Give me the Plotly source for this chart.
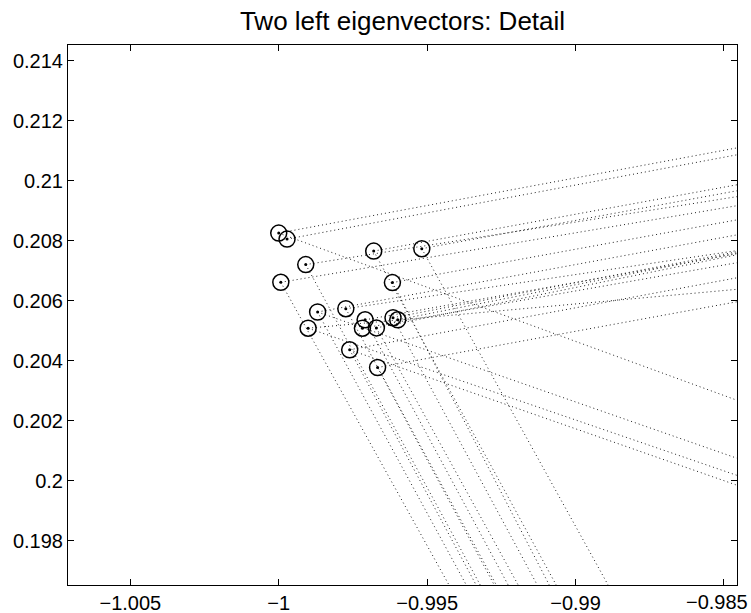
import plotly.graph_objects as go

# point positions (eigenvector components)
pt_x = [-1.0000, -0.99972, -0.99680, -0.99518, -0.99909, -0.99993, -0.99617, -0.99869, -0.99774,
        -0.99709, -0.99718, -0.99671, -0.99615, -0.99599, -0.99901, -0.99761, -0.99667]
pt_y = [0.20825, 0.20805, 0.20765, 0.20773, 0.20720, 0.20661, 0.20660, 0.20562, 0.20573,
        0.20536, 0.20508, 0.20509, 0.20543, 0.20536, 0.20508, 0.20436, 0.20377]

# far ends of the dotted connecting lines (None = no such line)
up_end_x = [-0.9844] * 17
up_end_y = [0.21112, 0.21089, 0.20989, 0.20969, 0.20949, 0.20919, 0.20872, 0.20822, 0.20769,
            0.20759, 0.20729, 0.20756, 0.20766, 0.20762, 0.20639, 0.20679, 0.20599]
mid_end_x = [-0.9844, None, None, None, None, None, None, -0.9844, None,
             None, None, None, None, None, -0.9844, -0.9844, None]
mid_end_y = [0.20262, None, None, None, None, None, None, 0.20069, None,
             None, None, None, None, None, 0.20012, 0.19979, None]
low_end_x = [None, None, -0.99053, -0.98878, -0.99309, -0.99414, -0.99077, -0.99356, -0.99255,
             -0.99215, None, -0.99181, -0.99117, None, None, -0.99323, -0.99262]
low_end_y = [None, None, 0.1963, 0.1963, 0.1963, 0.1963, 0.1963, 0.1963, 0.1963,
             0.1963, None, 0.1963, 0.1963, None, None, 0.1963, 0.1963]

x_ticks = [-1.005, -1.0, -0.995, -0.99, -0.985]
x_tick_text = ["\u22121.005", "\u22121", "\u22120.995", "\u22120.99", "\u22120.985"]
y_ticks = [0.198, 0.2, 0.202, 0.204, 0.206, 0.208, 0.21, 0.212, 0.214]
y_tick_text = ["0.198", "0.2", "0.202", "0.204", "0.206", "0.208", "0.21", "0.212", "0.214"]

seg_x, seg_y = [], []
for ex_list, ey_list in ((up_end_x, up_end_y), (mid_end_x, mid_end_y), (low_end_x, low_end_y)):
    for px, py, ex, ey in zip(pt_x, pt_y, ex_list, ey_list):
        if ex is None:
            continue
        seg_x += [px, ex, None]
        seg_y += [py, ey, None]

fig = go.Figure()
fig.add_trace(go.Scatter(x=seg_x, y=seg_y, mode="lines",
                         line=dict(color="#222222", width=1, dash="1px,3px"),
                         hoverinfo="skip", showlegend=False))
fig.add_trace(go.Scatter(x=pt_x, y=pt_y, mode="markers",
                         marker=dict(symbol="circle-open", size=16, color="black",
                                     line=dict(width=1.5, color="black")),
                         showlegend=False))
fig.add_trace(go.Scatter(x=pt_x, y=pt_y, mode="markers",
                         marker=dict(symbol="circle", size=3, color="black"),
                         showlegend=False))

font_family = "Liberation Sans, Arial, Helvetica, sans-serif"

# all tick labels drawn by the axis except the last, which is nudged inside the page
shown_text = x_tick_text[:-1] + [""]

fig.update_layout(
    width=751, height=613,
    margin=dict(l=68, r=14, t=45, b=28, autoexpand=False),
    paper_bgcolor="white", plot_bgcolor="white",
    font=dict(family=font_family, size=20, color="black"),
    title=dict(text="Two left eigenvectors: Detail", x=0.5 + (68 - 14) / 2 / 751,
               xanchor="center", y=1 - 21 / 613, yanchor="middle",
               font=dict(size=26, family=font_family, color="black")),
    xaxis=dict(range=[-1.0071, -0.98456], tickvals=x_ticks, ticktext=shown_text,
               ticks="inside", ticklen=6, tickcolor="black", showline=True,
               linecolor="black", linewidth=1, mirror="ticks", showgrid=False,
               zeroline=False, tickfont=dict(size=20), automargin=False),
    yaxis=dict(range=[0.19652, 0.21452], tickvals=y_ticks, ticktext=y_tick_text,
               ticks="inside", ticklen=6, tickcolor="black", showline=True,
               linecolor="black", linewidth=1, mirror="ticks", showgrid=False,
               zeroline=False, tickfont=dict(size=20), automargin=False),
    annotations=[dict(text=x_tick_text[-1], x=x_ticks[-1], xref="x", xanchor="center",
                      xshift=-7, y=0, yref="paper", yanchor="top", yshift=-4,
                      showarrow=False, font=dict(size=20, family=font_family, color="black"))],
)

clip_js = (
    "document.documentElement.style.margin='0';"
    "document.documentElement.style.overflow='hidden';"
    "document.body.style.margin='0';"
    "document.body.style.overflow='hidden';"
    "var gd=document.getElementById('{plot_id}');"
    "gd.style.overflow='hidden';"
)
fig.write_html("out.html", post_script=clip_js)
